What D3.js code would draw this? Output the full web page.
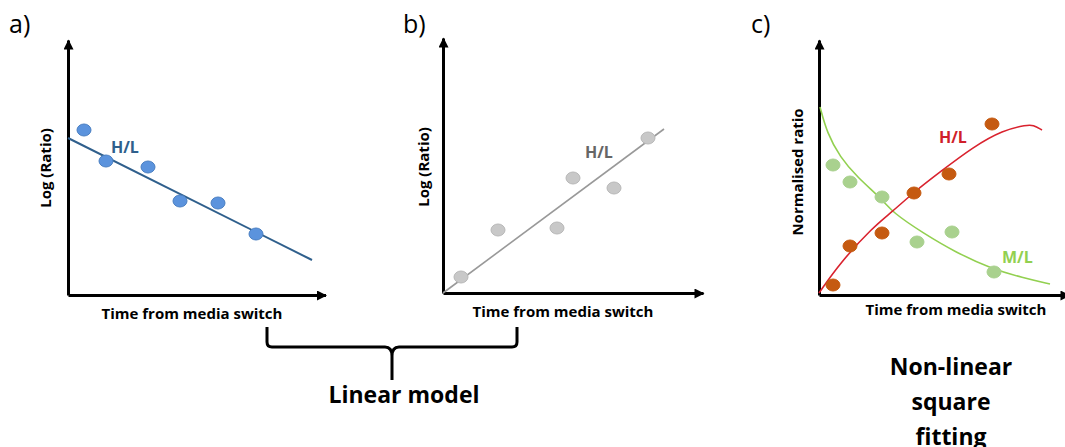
<!DOCTYPE html>
<html>
<head>
<meta charset="utf-8">
<script src="https://cdn.jsdelivr.net/npm/d3@7"></script>
<style>
  body { margin: 0; background: #fff; }
  text { font-family: "Open Sans", "Noto Sans", sans-serif; }
</style>
</head>
<body>
<svg id="chart" width="1065" height="447"></svg>
<script>
// ---- data (axis units 0..100) ----
// a) linear fit, decreasing H/L
const aPoints = [[6.4, 66], [15.2, 53.6], [32, 51.2], [44.8, 37.6], [60, 36.8], [75.2, 24.4]];
const aFit = [[0, 62.8], [97.6, 14]];
// b) linear fit, increasing H/L
const bPoints = [[7.2, 6.4], [22, 25.2], [45.6, 26], [52, 46], [68.4, 42], [82, 62]];
const bFit = [[0, 0], [88.4, 65.6]];
// c) non-linear fits
const cHL = [[5.6, 4], [12.4, 19.6], [25.2, 24.8], [38, 40.8], [52, 48.4], [69.2, 68.4]];
const cML = [[5.6, 52], [12.4, 45.2], [25.2, 39.2], [39.2, 21.2], [53.2, 25.2], [70, 9.2]];
const cHLFit = [[0, 0.8], [8.4, 12.8], [21.6, 27.2], [29.2, 33.2], [38, 41.2], [48.4, 49.2],
                [61.6, 59.2], [73.6, 66], [83.2, 68], [85.6, 68], [89.2, 66]];
const cMLFit = [[0.4, 75.2], [3.2, 64.8], [8.4, 55.2], [15.2, 47.2], [25.6, 38], [29.2, 33.2],
                [41.6, 24.8], [55.2, 16.8], [68.4, 10.8], [81.6, 6.8], [92.4, 4.4]];

const xLabel = "Time from media switch";

const svg = d3.select("#chart");

// arrow head
svg.append("defs").append("marker")
  .attr("id", "arrow")
  .attr("viewBox", "0 0 10 10")
  .attr("refX", 9).attr("refY", 5)
  .attr("markerUnits", "userSpaceOnUse")
  .attr("markerWidth", 11).attr("markerHeight", 10)
  .attr("orient", "auto")
  .append("path").attr("d", "M0,0L10,5L0,10Z").attr("fill", "#000");

function panel(cfg) {
  const x = d3.scaleLinear().domain([0, 100]).range([cfg.ox, cfg.ox + 250]);
  const y = d3.scaleLinear().domain([0, 100]).range([cfg.oy, cfg.oy - 250]);
  const g = svg.append("g");

  // axes (domain line only, arrow at the end)
  const xa = x.copy().domain([0, cfg.xMax]).range([x(0), x(cfg.xMax)]);
  const ya = y.copy().domain([0, 102]).range([y(0), y(102)]);
  g.append("g").attr("transform", `translate(0,${cfg.oy})`)
    .call(d3.axisBottom(xa).ticks(0).tickSizeOuter(0))
    .select(".domain").attr("stroke-width", 3).attr("marker-end", "url(#arrow)");
  g.append("g").attr("transform", `translate(${cfg.ox},0)`)
    .call(d3.axisLeft(ya).ticks(0).tickSizeOuter(0))
    .select(".domain").attr("stroke-width", 3).attr("marker-end", "url(#arrow)");

  // fitted lines
  cfg.fits.forEach(f => {
    g.append("path").datum(f.data)
      .attr("fill", "none").attr("stroke", f.color).attr("stroke-width", f.width || 2)
      .attr("d", d3.line().x(d => x(d[0])).y(d => y(d[1])).curve(f.curve || d3.curveLinear));
  });

  // points
  cfg.points.forEach(p => {
    g.selectAll(null).data(p.data).join("ellipse")
      .attr("cx", d => x(d[0])).attr("cy", d => y(d[1]))
      .attr("rx", 7).attr("ry", 6)
      .attr("fill", p.fill).attr("stroke", p.stroke).attr("stroke-width", 1);
  });

  // series labels
  cfg.labels.forEach(l => {
    g.append("text").attr("x", l.x).attr("y", l.y).attr("fill", l.color)
      .attr("font-size", 16).attr("font-weight", 700).text(l.text);
  });

  // axis titles
  g.append("text")
    .attr("transform", `translate(${cfg.yLabelX},${cfg.yLabelY}) rotate(-90)`)
    .attr("text-anchor", "middle").attr("font-size", 15).attr("font-weight", 700)
    .text(cfg.yLabel);
  g.append("text").attr("x", cfg.xLabelX).attr("y", cfg.xLabelY)
    .attr("text-anchor", "middle").attr("font-size", 15).attr("font-weight", 700)
    .text(xLabel);

  // panel letter
  g.append("text").attr("x", cfg.letterX).attr("y", 33)
    .attr("font-size", 25).text(cfg.letter);
}

panel({
  ox: 68, oy: 295, xMax: 103, letter: "a)", letterX: 9,
  yLabel: "Log (Ratio)", yLabelX: 51, yLabelY: 168, xLabelX: 192, xLabelY: 319,
  fits: [{ data: aFit, color: "#2f5f8c" }],
  points: [{ data: aPoints, fill: "#5b93dd", stroke: "#4a7fc2" }],
  labels: [{ text: "H/L", x: 111, y: 153, color: "#2f5f8c" }]
});

panel({
  ox: 443, oy: 293, xMax: 104, letter: "b)", letterX: 403,
  yLabel: "Log (Ratio)", yLabelX: 429, yLabelY: 167, xLabelX: 563, xLabelY: 317,
  fits: [{ data: bFit, color: "#999999", width: 1.6 }],
  points: [{ data: bPoints, fill: "#c8c8c8", stroke: "#b8b8b8" }],
  labels: [{ text: "H/L", x: 585, y: 158, color: "#666666" }]
});

panel({
  ox: 819, oy: 295, xMax: 100, letter: "c)", letterX: 751,
  yLabel: "Normalised ratio", yLabelX: 803, yLabelY: 172, xLabelX: 956, xLabelY: 315,
  fits: [
    { data: cMLFit, color: "#92d050", width: 1.6, curve: d3.curveBasis },
    { data: cHLFit, color: "#d9222e", width: 1.6, curve: d3.curveBasis }
  ],
  points: [
    { data: cML, fill: "#a9d18e", stroke: "#a9d18e" },
    { data: cHL, fill: "#c55a11", stroke: "#c55a11" }
  ],
  labels: [
    { text: "H/L", x: 939, y: 143, color: "#d01f2a" },
    { text: "M/L", x: 1002, y: 263, color: "#92d050" }
  ]
});

// bracket under panels a and b
const br = d3.path();
br.moveTo(267, 327);
br.lineTo(267, 342);
br.quadraticCurveTo(267, 347, 272, 347);
br.lineTo(385, 347);
br.quadraticCurveTo(392, 347, 392, 356);
br.lineTo(392, 380);
br.moveTo(392, 356);
br.quadraticCurveTo(392, 347, 399, 347);
br.lineTo(512, 347);
br.quadraticCurveTo(517, 347, 517, 342);
br.lineTo(517, 327);
svg.append("path").attr("d", br.toString())
  .attr("fill", "none").attr("stroke", "#000").attr("stroke-width", 3);

svg.append("text").attr("x", 404).attr("y", 403).attr("text-anchor", "middle")
  .attr("font-size", 23).attr("font-weight", 700).text("Linear model");

["Non-linear", "square", "fitting"].forEach((t, i) => {
  svg.append("text").attr("x", 951).attr("y", 375 + i * 35).attr("text-anchor", "middle")
    .attr("font-size", 23).attr("font-weight", 700).text(t);
});
</script>
</body>
</html>
